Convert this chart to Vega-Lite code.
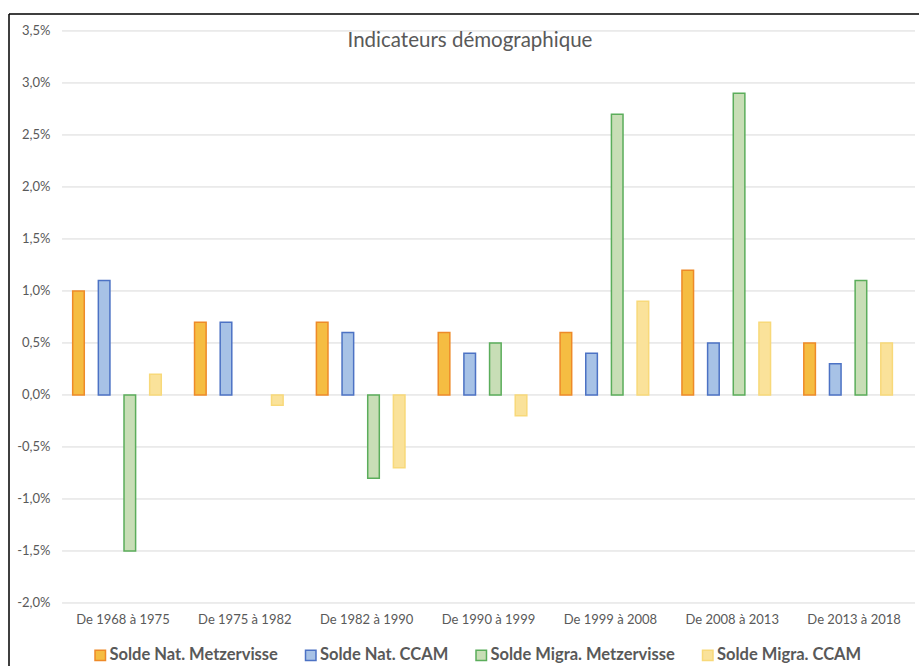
{
  "$schema": "https://vega.github.io/schema/vega-lite/v6.json",
  "padding": {"left": 9, "top": 14, "right": 0, "bottom": 0},
  "background": "white",
  "width": 910,
  "height": 652,
  "config": {"font": "Lato", "view": {"stroke": "black", "strokeWidth": 1.5, "strokeDash": [910, 1562, 652, 0]}},
  "title": {"text": "Indicateurs démographique", "fontSize": 20.5, "font": "Lato", "fontWeight": "normal", "color": "#595959", "anchor": "middle", "frame": "group", "offset": -53, "baseline": "alphabetic", "dx": 6},
  "layer": [
    {
      "data": {"values": [
        {"tick": -2}, {"tick": -1.5}, {"tick": -1}, {"tick": -0.5}, {"tick": 0}, {"tick": 0.5},
        {"tick": 1}, {"tick": 1.5}, {"tick": 2}, {"tick": 2.5}, {"tick": 3}, {"tick": 3.5}
      ]},
      "mark": {"type": "rule", "color": "#d9d9d9", "strokeWidth": 1},
      "encoding": {
        "x": {"datum": "De 1968 à 1975", "bandPosition": 0, "type": "nominal"},
        "x2": {"datum": "De 2013 à 2018", "bandPosition": 1},
        "y": {"field": "tick", "type": "quantitative"}
      }
    },
    {
      "data": {"values": [
        {"periode": "De 1968 à 1975", "serie": "Solde Nat. Metzervisse", "valeur": 1.0},
        {"periode": "De 1968 à 1975", "serie": "Solde Nat. CCAM", "valeur": 1.1},
        {"periode": "De 1968 à 1975", "serie": "Solde Migra. Metzervisse", "valeur": -1.5},
        {"periode": "De 1968 à 1975", "serie": "Solde Migra. CCAM", "valeur": 0.2},
        {"periode": "De 1975 à 1982", "serie": "Solde Nat. Metzervisse", "valeur": 0.7},
        {"periode": "De 1975 à 1982", "serie": "Solde Nat. CCAM", "valeur": 0.7},
        {"periode": "De 1975 à 1982", "serie": "Solde Migra. CCAM", "valeur": -0.1},
        {"periode": "De 1982 à 1990", "serie": "Solde Nat. Metzervisse", "valeur": 0.7},
        {"periode": "De 1982 à 1990", "serie": "Solde Nat. CCAM", "valeur": 0.6},
        {"periode": "De 1982 à 1990", "serie": "Solde Migra. Metzervisse", "valeur": -0.8},
        {"periode": "De 1982 à 1990", "serie": "Solde Migra. CCAM", "valeur": -0.7},
        {"periode": "De 1990 à 1999", "serie": "Solde Nat. Metzervisse", "valeur": 0.6},
        {"periode": "De 1990 à 1999", "serie": "Solde Nat. CCAM", "valeur": 0.4},
        {"periode": "De 1990 à 1999", "serie": "Solde Migra. Metzervisse", "valeur": 0.5},
        {"periode": "De 1990 à 1999", "serie": "Solde Migra. CCAM", "valeur": -0.2},
        {"periode": "De 1999 à 2008", "serie": "Solde Nat. Metzervisse", "valeur": 0.6},
        {"periode": "De 1999 à 2008", "serie": "Solde Nat. CCAM", "valeur": 0.4},
        {"periode": "De 1999 à 2008", "serie": "Solde Migra. Metzervisse", "valeur": 2.7},
        {"periode": "De 1999 à 2008", "serie": "Solde Migra. CCAM", "valeur": 0.9},
        {"periode": "De 2008 à 2013", "serie": "Solde Nat. Metzervisse", "valeur": 1.2},
        {"periode": "De 2008 à 2013", "serie": "Solde Nat. CCAM", "valeur": 0.5},
        {"periode": "De 2008 à 2013", "serie": "Solde Migra. Metzervisse", "valeur": 2.9},
        {"periode": "De 2008 à 2013", "serie": "Solde Migra. CCAM", "valeur": 0.7},
        {"periode": "De 2013 à 2018", "serie": "Solde Nat. Metzervisse", "valeur": 0.5},
        {"periode": "De 2013 à 2018", "serie": "Solde Nat. CCAM", "valeur": 0.3},
        {"periode": "De 2013 à 2018", "serie": "Solde Migra. Metzervisse", "valeur": 1.1},
        {"periode": "De 2013 à 2018", "serie": "Solde Migra. CCAM", "valeur": 0.5}
      ]},
      "mark": {"type": "bar", "strokeWidth": 1.5},
      "encoding": {
        "x": {
          "field": "periode", "type": "nominal", "sort": null,
          "scale": {"domain": ["De 1968 à 1975", "De 1975 à 1982", "De 1982 à 1990", "De 1990 à 1999", "De 1999 à 2008", "De 2008 à 2013", "De 2013 à 2018"], "paddingInner": 0, "paddingOuter": 0.234, "align": 0.93},
          "axis": {"title": null, "labelAngle": 0, "bandPosition": 0.5, "labelAlign": "center", "ticks": false, "domain": false, "grid": false, "offset": -63, "labelFontSize": 13, "labelColor": "#595959", "labelPadding": 16}
        },
        "xOffset": {
          "field": "serie", "type": "nominal",
          "scale": {"domain": ["Solde Nat. Metzervisse", "Solde Nat. CCAM", "Solde Migra. Metzervisse", "Solde Migra. CCAM"], "paddingInner": 0.548, "paddingOuter": 0.648, "align": 0.32}
        },
        "y": {
          "field": "valeur", "type": "quantitative",
          "scale": {"domain": [-2.606, 3.663], "nice": false, "zero": false},
          "axis": {"title": null, "values": [-2, -1.5, -1, -0.5, 0, 0.5, 1, 1.5, 2, 2.5, 3, 3.5], "labelExpr": "replace(replace(format(datum.value, '.1f'), '.', ','), '\u2212', '-') + '%'", "grid": false, "domain": false, "ticks": false, "offset": -53, "labelFontSize": 13, "labelColor": "#595959", "labelPadding": 12}
        },
        "fill": {
          "field": "serie", "type": "nominal",
          "scale": {"domain": ["Solde Nat. Metzervisse", "Solde Nat. CCAM", "Solde Migra. Metzervisse", "Solde Migra. CCAM"], "range": ["#F5BD42", "#A7C2E6", "#C8DEB6", "#FAE29A"]},
          "legend": {"title": null, "orient": "none", "legendX": 83, "legendY": 633, "direction": "horizontal", "columns": 4, "symbolType": "square", "symbolSize": 110, "symbolStrokeWidth": 1.5, "labelFontSize": 16.5, "labelFontWeight": "bold", "labelColor": "#595959", "labelOffset": 1, "columnPadding": 24.5, "labelLimit": 300}
        },
        "stroke": {
          "field": "serie", "type": "nominal",
          "scale": {"domain": ["Solde Nat. Metzervisse", "Solde Nat. CCAM", "Solde Migra. Metzervisse", "Solde Migra. CCAM"], "range": ["#EE8A28", "#4C72C4", "#5BAD5B", "#F8D97A"]},
          "legend": {"title": null, "orient": "none", "legendX": 83, "legendY": 633, "direction": "horizontal", "columns": 4, "symbolType": "square", "symbolSize": 110, "symbolStrokeWidth": 1.5, "labelFontSize": 16.5, "labelFontWeight": "bold", "labelColor": "#595959", "labelOffset": 1, "columnPadding": 24.5, "labelLimit": 300}
        }
      }
    }
  ]
}
